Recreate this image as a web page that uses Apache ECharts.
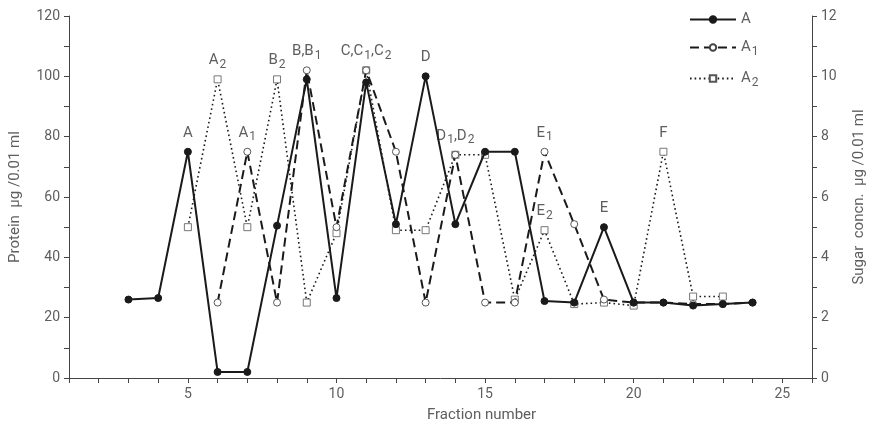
<!DOCTYPE html>
<html>
<head>
<meta charset="utf-8">
<script src="https://cdn.jsdelivr.net/npm/echarts@6/dist/echarts.min.js"></script>
<style>
  html, body { margin: 0; padding: 0; background: #fff; }
  #chart { width: 875px; height: 428px; }
</style>
</head>
<body>
<div id="chart"></div>
<script>
// Fraction numbers and measured values per series
const fractionsA = [3, 4, 5, 6, 7, 8, 9, 10, 11, 12, 13, 14, 15, 16, 17, 18, 19, 20, 21, 22, 23, 24];
const proteinA = [26, 26.5, 75, 2, 2, 50.5, 99, 26.5, 98, 51, 100, 51, 75, 75, 25.5, 25, 50, 25, 25, 24, 24.5, 25];

const fractionsA1 = [6, 7, 8, 9, 10, 11, 12, 13, 14, 15, 16, 17, 18, 19, 20, 21, 22, 23, 24];
const sugarA1 = [2.5, 7.5, 2.5, 10.2, 5, 10.2, 7.5, 2.5, 7.4, 2.5, 2.5, 7.5, 5.1, 2.6, 2.5, 2.5, 2.45, 2.45, 2.5];

const fractionsA2 = [5, 6, 7, 8, 9, 10, 11, 12, 13, 14, 15, 16, 17, 18, 19, 20, 21, 22, 23];
const sugarA2 = [5, 9.9, 5, 9.9, 2.5, 4.8, 10.2, 4.9, 4.9, 7.4, 7.4, 2.6, 4.9, 2.45, 2.5, 2.4, 7.5, 2.7, 2.7];

// Peak annotations: series, fraction, text (rich-text with subscripts)
const peakSeries = ['A', 'A2', 'A1', 'A2', 'A1', 'A2', 'A', 'A1', 'A1', 'A2', 'A', 'A2'];
const peakFractions = [5, 6, 7, 8, 9, 11, 13, 14, 17, 17, 19, 21];
const peakTexts = [
  '{n|A}', '{n|A}{s|2}', '{n|A}{s|1}', '{n|B}{s|2}', '{n|B,B}{s|1}',
  '{n|C,C}{s|1}{n|,C}{s|2}', '{n|D}', '{n|D}{s|1}{n|,D}{s|2}',
  '{n|E}{s|1}', '{n|E}{s|2}', '{n|E}', '{n|F}'
];

// Axis ranges
const fractionRange = [1, 26];
const proteinRange = [0, 120];
const sugarRange = [0, 12];

const FONT = '"Roboto", "DejaVu Sans", sans-serif';
const TEXT = '#5e5e5e';
const INK = '#1a1a1a';

const richText = {
  n: { fontFamily: FONT, fontSize: 15, color: TEXT, lineHeight: 18 },
  s: { fontFamily: FONT, fontSize: 12, color: TEXT, padding: [9, 0, 0, 1], lineHeight: 18 }
};

function buildData(name, xs, ys) {
  return xs.map((x, i) => {
    const item = { value: [x, ys[i]] };
    peakSeries.forEach((s, k) => {
      if (s === name && peakFractions[k] === x) {
        item.label = {
          show: true,
          position: 'top',
          distance: 6,
          formatter: peakTexts[k],
          rich: richText
        };
      }
    });
    return item;
  });
}

const axisLineStyle = { color: '#444', width: 1 };

const chart = echarts.init(document.getElementById('chart'));
chart.setOption({
  animation: false,
  backgroundColor: '#fff',
  grid: { left: 67, right: 54, top: 16, bottom: 50, containLabel: false },
  legend: {
    orient: 'vertical',
    left: 684,
    top: 7,
    itemWidth: 46,
    itemHeight: 8,
    itemGap: 10,
    data: ['A', 'A1', 'A2'],
    formatter: name => name.length > 1 ? '{n|A}{s|' + name.slice(1) + '}' : '{n|A}',
    textStyle: { rich: richText, color: TEXT }
  },
  xAxis: {
    type: 'value',
    min: fractionRange[0],
    max: fractionRange[1],
    interval: 1,
    name: 'Fraction number',
    nameLocation: 'middle',
    nameGap: 30,
    nameTextStyle: { fontFamily: FONT, fontSize: 15, color: TEXT, padding: [0, 0, 0, 82] },
    axisLine: { lineStyle: axisLineStyle },
    axisTick: { length: 5, lineStyle: axisLineStyle },
    axisLabel: {
      fontFamily: FONT, fontSize: 14, color: TEXT, margin: 9,
      formatter: v => (v % 5 === 0 ? String(v) : '')
    },
    splitLine: { show: false }
  },
  yAxis: [
    {
      type: 'value',
      min: proteinRange[0],
      max: proteinRange[1],
      interval: 10,
      position: 'left',
      name: 'Protein  \u00b5g /0.01 ml',
      nameLocation: 'middle',
      nameRotate: 90,
      nameGap: 46,
      nameTextStyle: { fontFamily: FONT, fontSize: 15, color: TEXT },
      axisLine: { show: true, lineStyle: axisLineStyle },
      axisTick: { show: true, length: 5, lineStyle: axisLineStyle },
      axisLabel: {
        fontFamily: FONT, fontSize: 14, color: TEXT, margin: 9,
        formatter: v => (v % 20 === 0 ? String(v) : '')
      },
      splitLine: { show: false }
    },
    {
      type: 'value',
      min: sugarRange[0],
      max: sugarRange[1],
      interval: 1,
      position: 'right',
      name: 'Sugar  concn.  \u00b5g /0.01 ml',
      nameLocation: 'middle',
      nameRotate: 90,
      nameGap: 40,
      nameTextStyle: { fontFamily: FONT, fontSize: 15, color: TEXT },
      axisLine: { show: true, lineStyle: axisLineStyle },
      axisTick: { show: true, length: 5, lineStyle: axisLineStyle },
      axisLabel: {
        fontFamily: FONT, fontSize: 14, color: TEXT, margin: 9,
        formatter: v => (v % 2 === 0 ? String(v) : '')
      },
      splitLine: { show: false }
    }
  ],
  series: [
    {
      name: 'A2',
      type: 'line',
      yAxisIndex: 1,
      data: buildData('A2', fractionsA2, sugarA2),
      symbol: 'rect',
      symbolSize: 7,
      showAllSymbol: true,
      lineStyle: { color: INK, width: 1.6, type: [1.6, 3] },
      itemStyle: { color: '#fff', borderColor: '#555', borderWidth: 0.8 },
      z: 2
    },
    {
      name: 'A1',
      type: 'line',
      yAxisIndex: 1,
      data: buildData('A1', fractionsA1, sugarA1),
      symbol: 'circle',
      symbolSize: 7,
      showAllSymbol: true,
      lineStyle: { color: INK, width: 2, type: [9, 5] },
      itemStyle: { color: '#fff', borderColor: '#444', borderWidth: 0.9 },
      z: 3
    },
    {
      name: 'A',
      type: 'line',
      yAxisIndex: 0,
      data: buildData('A', fractionsA, proteinA),
      symbol: 'circle',
      symbolSize: 7,
      showAllSymbol: true,
      lineStyle: { color: INK, width: 2 },
      itemStyle: { color: INK, borderColor: INK, borderWidth: 1 },
      z: 4
    }
  ]
});
</script>
</body>
</html>
